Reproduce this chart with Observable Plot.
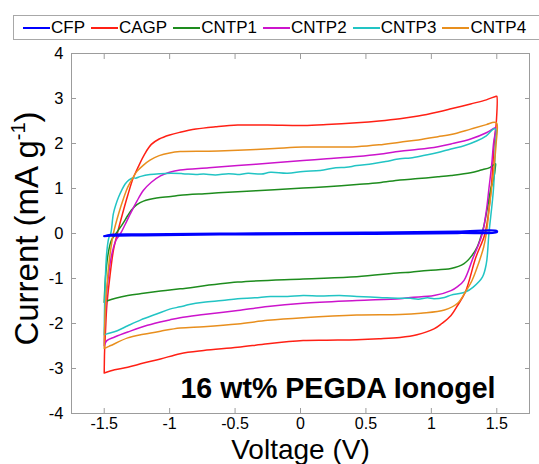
<!DOCTYPE html>
<html>
<head>
<meta charset="utf-8">
<script src="https://cdn.jsdelivr.net/npm/d3@7"></script>
<script src="https://cdn.jsdelivr.net/npm/@observablehq/plot@0.6"></script>
<style>
  html, body { margin: 0; padding: 0; background: #fff; }
  body { width: 539px; height: 464px; overflow: hidden; font-family: "Liberation Sans", Arial, sans-serif; }
  #legend { position: relative; height: 44px; }
  #legend .box { position: absolute; left: 13px; top: 15px; width: 530px; height: 23px; border: 1px solid #a8a8a8; box-sizing: content-box; display: flex; align-items: center; padding-left: 9px; gap: 6px; font-size: 17px; color: #000; }
  #legend .item { display: flex; align-items: center; white-space: nowrap; }
  #legend .sw { display: inline-block; width: 27px; height: 2px; margin-right: 1px; }
</style>
</head>
<body>
<div id="legend"><div class="box"></div></div>
<div id="chart"></div>
<script>
// ---- data ----
const seriesNames = ["CFP", "CAGP", "CNTP1", "CNTP2", "CNTP3", "CNTP4"];
const seriesColors = ["#0000ff", "#ff2015", "#1e8c1e", "#cc14cc", "#22c4c4", "#e88f1e"];

const xTicks = [-1.5, -1, -0.5, 0, 0.5, 1, 1.5];
const yTicks = [-4, -3, -2, -1, 0, 1, 2, 3, 4];

// each curve: forward scan (-1.5 V -> 1.5 V) then reverse scan back to -1.5 V
const CFP = [[-1.5,-0.06],[-1.45,-0.03],[-1.2,-0.02],[-0.5,0.0],[0.5,0.02],[1.2,0.04],[1.5,0.055],
  [1.5,0.03],[1.2,0.01],[0.5,-0.01],[-0.5,-0.02],[-1.2,-0.04],[-1.45,-0.05],[-1.5,-0.06]];

const CAGP = [[-1.5,-3.10],[-1.497,-2.6],[-1.49,-2.16],[-1.48,-1.6],[-1.46,-1.04],[-1.43,-0.38],[-1.40,0.0],[-1.36,0.44],[-1.32,0.85],[-1.28,1.22],[-1.24,1.48],[-1.19,1.77],[-1.14,1.98],[-1.08,2.1],[-1.0,2.19],[-0.92,2.25],[-0.8,2.32],[-0.65,2.37],[-0.48,2.41],[-0.25,2.41],[0.02,2.40],[0.2,2.42],[0.43,2.46],[0.6,2.5],[0.76,2.55],[0.9,2.61],[1.05,2.7],[1.15,2.77],[1.3,2.88],[1.42,2.97],[1.495,3.05],
  [1.5,3.05],[1.497,2.5],[1.48,2.0],[1.457,1.0],[1.41,0.0],[1.34,-0.53],[1.26,-1.30],[1.2,-1.6],[1.15,-1.82],[1.08,-2.0],[1.02,-2.12],[0.89,-2.25],[0.76,-2.31],[0.6,-2.34],[0.43,-2.36],[0.2,-2.37],[0.02,-2.38],[-0.25,-2.45],[-0.48,-2.53],[-0.74,-2.6],[-0.92,-2.67],[-1.07,-2.79],[-1.2,-2.88],[-1.32,-2.97],[-1.42,-3.03],[-1.5,-3.10]];

const CNTP1 = [[-1.5,-1.53],[-1.495,-1.2],[-1.485,-0.8],[-1.47,-0.45],[-1.445,-0.15],[-1.41,0.0],[-1.36,0.21],[-1.32,0.4],[-1.29,0.53],[-1.25,0.64],[-1.20,0.72],[-1.1,0.79],[-0.99,0.82],[-0.92,0.85],[-0.7,0.89],[-0.48,0.93],[-0.2,0.97],[0.02,1.01],[0.2,1.04],[0.43,1.09],[0.6,1.13],[0.76,1.19],[0.9,1.22],[1.05,1.26],[1.15,1.29],[1.3,1.35],[1.38,1.41],[1.45,1.47],[1.49,1.55],
  [1.49,1.5],[1.475,1.2],[1.455,1.0],[1.43,0.6],[1.40,0.15],[1.375,-0.1],[1.35,-0.3],[1.31,-0.49],[1.25,-0.67],[1.15,-0.78],[0.97,-0.82],[0.84,-0.86],[0.76,-0.87],[0.43,-0.96],[0.02,-1.01],[-0.48,-1.08],[-0.92,-1.23],[-1.07,-1.28],[-1.2,-1.33],[-1.32,-1.38],[-1.47,-1.49],[-1.5,-1.53]];

const CNTP2 = [[-1.5,-2.49],[-1.495,-2.0],[-1.485,-1.5],[-1.47,-1.0],[-1.445,-0.5],[-1.41,-0.15],[-1.375,0.0],[-1.34,0.2],[-1.30,0.44],[-1.25,0.72],[-1.20,0.96],[-1.14,1.14],[-1.07,1.28],[-1.0,1.36],[-0.92,1.41],[-0.7,1.46],[-0.48,1.51],[-0.2,1.57],[0.02,1.62],[0.2,1.66],[0.43,1.71],[0.6,1.76],[0.76,1.83],[0.9,1.87],[1.05,1.93],[1.15,1.99],[1.3,2.1],[1.42,2.24],[1.48,2.34],
  [1.49,2.35],[1.475,2.0],[1.46,1.5],[1.44,1.0],[1.42,0.5],[1.39,0.0],[1.36,-0.25],[1.32,-0.53],[1.25,-1.04],[1.2,-1.18],[1.15,-1.27],[1.02,-1.38],[0.84,-1.42],[0.76,-1.45],[0.43,-1.49],[0.02,-1.55],[-0.25,-1.62],[-0.48,-1.71],[-0.74,-1.8],[-0.92,-1.87],[-1.0,-1.92],[-1.17,-2.04],[-1.32,-2.19],[-1.42,-2.3],[-1.48,-2.38],[-1.5,-2.49]];

const CNTP3 = [[-1.5,-2.25],[-1.497,-1.6],[-1.49,-0.9],[-1.48,-0.4],[-1.465,-0.1],[-1.45,0.0],[-1.43,0.44],[-1.41,0.65],[-1.39,0.81],[-1.365,0.97],[-1.34,1.10],[-1.31,1.19],[-1.28,1.24],[-1.26,1.23],[-1.22,1.27],[-1.15,1.31],[-1.07,1.33],[-0.99,1.34],[-0.9,1.33],[-0.8,1.31],[-0.74,1.32],[-0.65,1.30],[-0.55,1.33],[-0.48,1.31],[-0.4,1.34],[-0.3,1.32],[-0.23,1.36],[-0.1,1.34],[0.02,1.38],[0.15,1.40],[0.27,1.46],[0.35,1.47],[0.43,1.51],[0.55,1.55],[0.65,1.60],[0.76,1.66],[0.84,1.68],[0.95,1.74],[1.05,1.80],[1.15,1.88],[1.25,1.95],[1.35,2.06],[1.42,2.17],[1.48,2.33],
  [1.495,2.3],[1.49,2.0],[1.475,1.0],[1.44,0.0],[1.42,-0.67],[1.39,-0.97],[1.32,-1.19],[1.26,-1.30],[1.15,-1.37],[1.1,-1.42],[1.02,-1.45],[0.97,-1.43],[0.9,-1.46],[0.84,-1.44],[0.76,-1.44],[0.6,-1.42],[0.43,-1.40],[0.3,-1.38],[0.15,-1.39],[0.02,-1.38],[-0.1,-1.40],[-0.23,-1.40],[-0.35,-1.43],[-0.48,-1.45],[-0.6,-1.49],[-0.74,-1.53],[-0.85,-1.58],[-0.92,-1.63],[-1.0,-1.68],[-1.1,-1.79],[-1.22,-1.92],[-1.32,-2.05],[-1.40,-2.16],[-1.48,-2.23],[-1.5,-2.25]];

const CNTP4 = [[-1.5,-2.55],[-1.497,-2.1],[-1.49,-1.6],[-1.475,-1.0],[-1.455,-0.45],[-1.43,0.0],[-1.39,0.44],[-1.35,0.8],[-1.32,1.03],[-1.28,1.24],[-1.25,1.38],[-1.2,1.52],[-1.15,1.63],[-1.08,1.73],[-1.0,1.79],[-0.92,1.82],[-0.7,1.83],[-0.48,1.85],[-0.2,1.89],[0.02,1.92],[0.2,1.92],[0.43,1.93],[0.6,1.97],[0.76,2.03],[0.9,2.08],[1.05,2.15],[1.15,2.2],[1.3,2.32],[1.42,2.42],[1.48,2.47],
  [1.5,2.45],[1.495,2.0],[1.48,1.5],[1.46,1.0],[1.44,0.5],[1.42,0.0],[1.40,-0.3],[1.36,-0.67],[1.31,-1.05],[1.26,-1.30],[1.2,-1.55],[1.1,-1.70],[0.92,-1.77],[0.76,-1.80],[0.43,-1.81],[0.02,-1.87],[-0.25,-1.93],[-0.48,-2.01],[-0.74,-2.07],[-0.92,-2.10],[-1.07,-2.17],[-1.2,-2.24],[-1.32,-2.32],[-1.45,-2.49],[-1.48,-2.53],[-1.5,-2.55]];

const seriesPoints = {CFP, CAGP, CNTP1, CNTP2, CNTP3, CNTP4};
const drawOrder = ["CAGP", "CNTP1", "CNTP2", "CNTP3", "CNTP4", "CFP"];

// ---- legend ----
const box = document.querySelector("#legend .box");
seriesNames.forEach((n, i) => {
  const it = document.createElement("span");
  it.className = "item";
  const sw = document.createElement("span");
  sw.className = "sw";
  sw.style.background = seriesColors[i];
  it.appendChild(sw);
  it.appendChild(document.createTextNode(n));
  box.appendChild(it);
});

// ---- chart ----
const table = drawOrder.flatMap(name => seriesPoints[name].map(([v, c], k) => ({series: name, v, c, k})));
const fmt = d => String(d);
const grey = "#9c9c9c";

const chart = Plot.plot({
  width: 539,
  height: 420,
  marginTop: 9,
  marginBottom: 51,
  marginLeft: 71,
  marginRight: 10,
  style: {fontFamily: "'Liberation Sans', Arial, sans-serif", fontSize: "16px", color: "#000", background: "#fff", overflow: "visible"},
  x: {domain: [-1.75, 1.75]},
  y: {domain: [-4, 4]},
  color: {domain: seriesNames, range: seriesColors},
  marks: [
    Plot.frame({stroke: grey}),
    Plot.axisX({anchor: "bottom", ticks: xTicks, tickSize: -5, stroke: grey, tickFormat: () => "", label: null}),
    Plot.axisX({anchor: "top", ticks: xTicks, tickSize: -5, stroke: grey, tickFormat: () => "", label: null}),
    Plot.axisY({anchor: "left", ticks: yTicks, tickSize: -5, stroke: grey, tickFormat: () => "", label: null}),
    Plot.axisY({anchor: "right", ticks: yTicks, tickSize: -5, stroke: grey, tickFormat: () => "", label: null}),
    Plot.axisX({anchor: "bottom", ticks: xTicks, tickSize: 0, tickPadding: 4, tickFormat: fmt, label: null, fill: "#000", fontSize: 16}),
    Plot.axisY({anchor: "left", ticks: yTicks, tickSize: 0, tickPadding: 8, tickFormat: fmt, label: null, fill: "#000", fontSize: 16.5}),
    Plot.line(table, {x: "v", y: "c", z: "series", stroke: "series", strokeWidth: d => d.series === "CFP" ? 2.2 : 1.5, curve: "catmull-rom"}),
    Plot.text(["16 wt% PEGDA Ionogel"], {frameAnchor: "bottom-right", textAnchor: "end", lineAnchor: "bottom", dx: -34, dy: -16, fontSize: 28.6, fontWeight: "bold", fill: "#000"}),
    Plot.text(["Voltage (V)"], {frameAnchor: "bottom", textAnchor: "middle", lineAnchor: "bottom", dy: 45, fontSize: 28, fill: "#000"}),
    Plot.text(["Current (mA g-1)"], {frameAnchor: "left", textAnchor: "middle", lineAnchor: "bottom", rotate: -90, dx: -33.5, dy: -5, fontSize: 33, fill: "#000"})
  ]
});
document.getElementById("chart").appendChild(chart);

// superscript in the y label
chart.querySelectorAll("text").forEach(t => {
  if (t.textContent === "Current (mA g-1)") {
    const ns = "http://www.w3.org/2000/svg";
    const host = t.querySelector("tspan") || t;
    host.textContent = "Current (mA g";
    const sup = document.createElementNS(ns, "tspan");
    sup.setAttribute("dy", "-13");
    sup.setAttribute("font-size", "20");
    sup.textContent = "-1";
    const close = document.createElementNS(ns, "tspan");
    close.setAttribute("dy", "13");
    close.textContent = ")";
    t.appendChild(sup);
    t.appendChild(close);
  }
});
</script>
</body>
</html>
